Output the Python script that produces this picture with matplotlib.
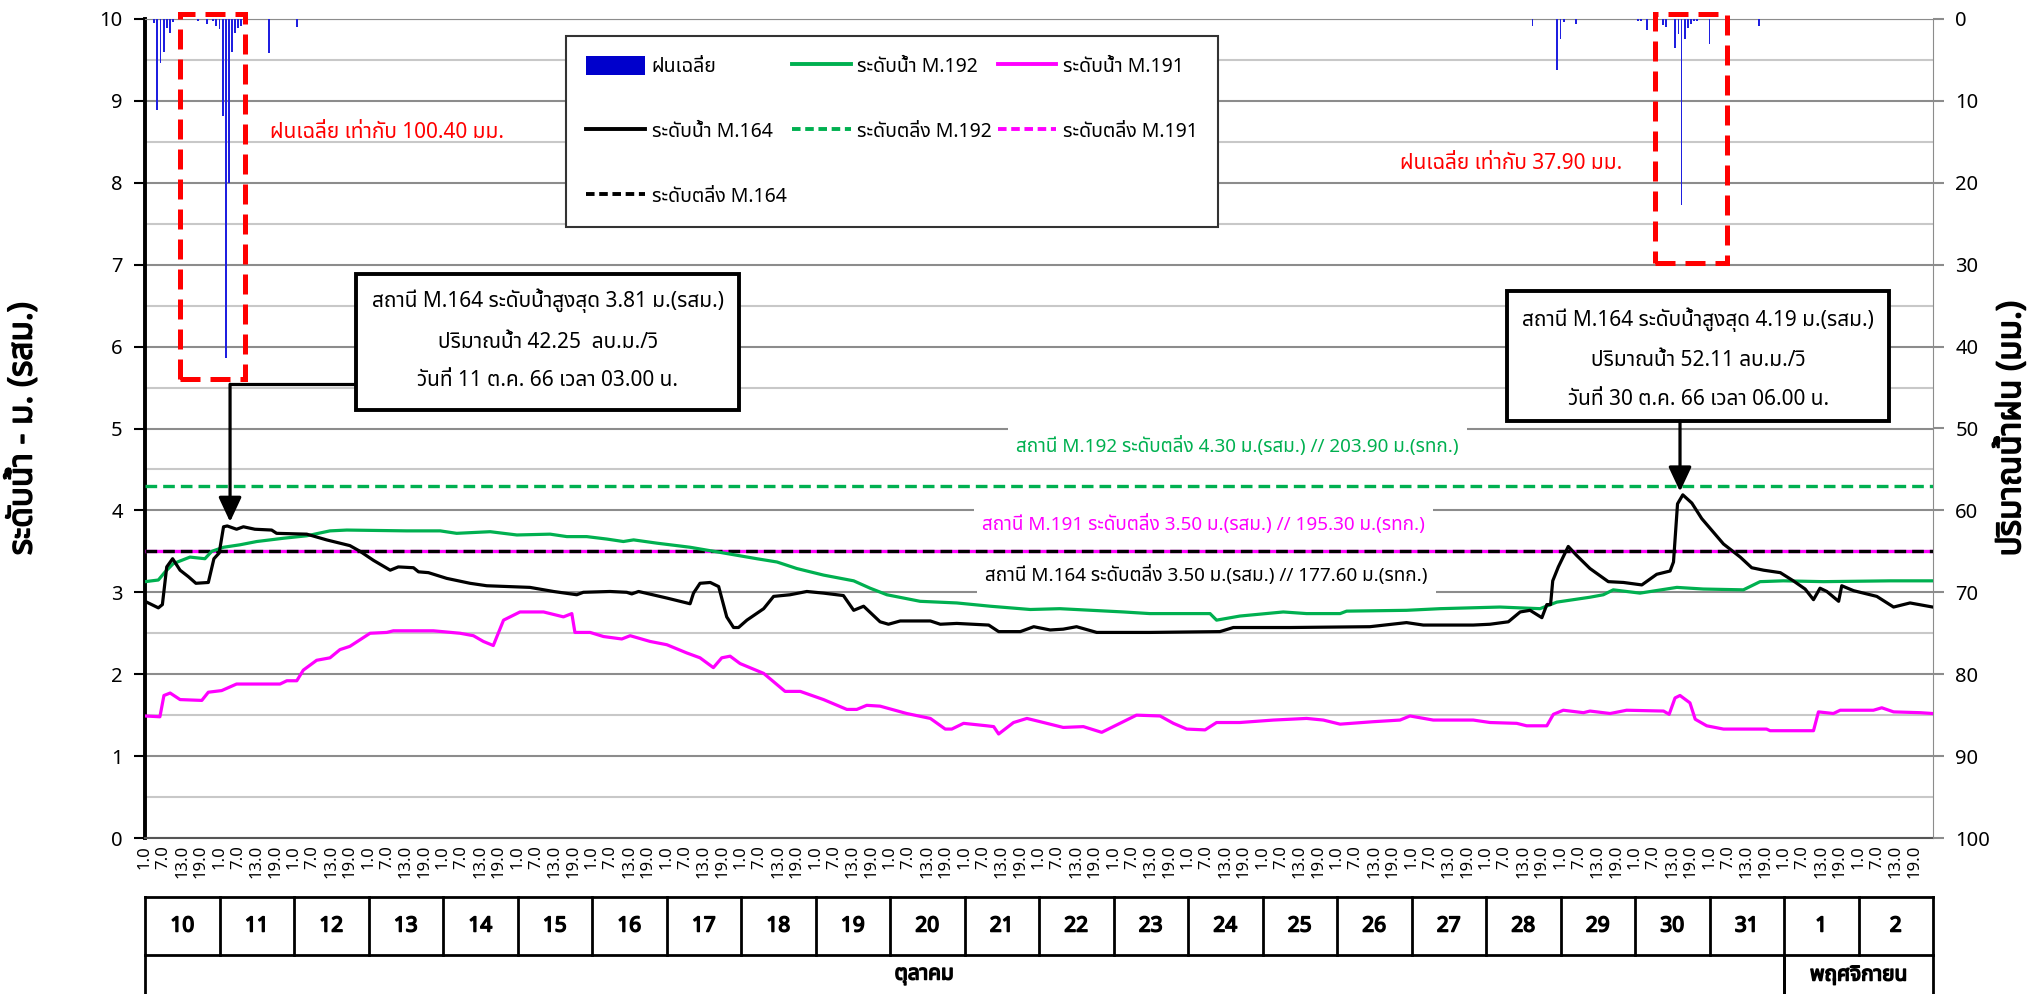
import matplotlib
matplotlib.use('Agg')
import matplotlib.pyplot as plt
from matplotlib import font_manager, transforms, patheffects
from matplotlib.ft2font import FT2Font
from matplotlib.patches import Rectangle
from matplotlib.lines import Line2D

# hourly categories: index 0 = 10 Oct 01:00, one step per hour, 24 days
day_labels = ['10', '11', '12', '13', '14', '15', '16', '17', '18', '19', '20', '21',
              '22', '23', '24', '25', '26', '27', '28', '29', '30', '31', '1', '2']
hour_labels = ['1.0', '7.0', '13.0', '19.0']
month_labels = ['ตุลาคม', 'พฤศจิกายน']
month_spans = [(0, 22), (22, 24)]

# water level M.164 (m. above gauge datum)
m164_hr = [0, 4.3, 5.6, 7, 8.9, 11.3, 14, 16.4, 20.4, 22.2, 23.9, 25.3, 26.5, 29.5, 31.7,
           35.4, 40.8, 42.4, 52.1, 58.5, 66, 69.3, 73.6, 79, 81.6, 86.5, 88.1, 91.3, 97.2,
           104.7, 110.1, 124, 131.6, 139.1, 141.2, 149.8, 155.2, 156.8, 159, 168.1, 175.6,
           176.7, 178.8, 182.1, 184.8, 187.4, 189.6, 191.2, 193.9, 199.3, 202.5, 207.8,
           213.2, 218.6, 225, 228.3, 231.5, 236.8, 239.5, 243.3, 253, 256.2, 261.5, 271.8,
           275, 282, 286.3, 291.6, 295.8, 300.1, 306.6, 323.7, 346.3, 350.6, 368.9, 394.6,
           406.4, 411.8, 427.9, 433.3, 439.2, 443, 446.2, 450, 451.6, 452.8, 453.5, 455.3,
           458.5, 461.2, 465.5, 471.4, 476.3, 482.2, 487, 491.3, 492.4, 493.7, 495.4, 498.3,
           501.5, 508.5, 513.9, 517.6, 521.4, 526.8, 531, 534.8, 537.5, 539.6, 541.8, 545.6,
           546.6, 550.4, 557.9, 563.3, 568.6, 575.9]
m164_lvl = [2.89, 2.81, 2.85, 3.31, 3.41, 3.27, 3.19, 3.11, 3.12, 3.41, 3.48, 3.80, 3.81, 3.77,
            3.80, 3.77, 3.76, 3.72, 3.71, 3.64, 3.57, 3.50, 3.39, 3.27, 3.31, 3.30, 3.25, 3.24,
            3.17, 3.11, 3.08, 3.06, 3.01, 2.97, 3.00, 3.01, 3.00, 2.98, 3.01, 2.93, 2.86, 2.99,
            3.11, 3.12, 3.07, 2.70, 2.57, 2.57, 2.66, 2.80, 2.95, 2.97, 3.01, 2.99, 2.96, 2.78,
            2.83, 2.64, 2.61, 2.65, 2.65, 2.61, 2.62, 2.60, 2.52, 2.52, 2.58, 2.54, 2.55, 2.58,
            2.51, 2.51, 2.52, 2.57, 2.57, 2.58, 2.63, 2.60, 2.60, 2.61, 2.64, 2.76, 2.78, 2.69,
            2.85, 2.85, 3.14, 3.31, 3.56, 3.45, 3.29, 3.13, 3.12, 3.09, 3.22, 3.26, 3.37, 4.08,
            4.19, 4.09, 3.90, 3.59, 3.43, 3.30, 3.27, 3.24, 3.14, 3.04, 2.91, 3.05, 3.01, 2.89,
            3.08, 3.02, 2.95, 2.82, 2.87, 2.82]

# water level M.192
m192_hr = [0, 4.3, 6.5, 9.1, 14.5, 19.3, 21.5, 25.3, 30.6, 36, 44.6, 52.1, 59.6, 65, 84.3,
           95.1, 100.4, 111.2, 119.8, 130.5, 135.9, 142.3, 148.8, 154.1, 157.4, 164.9, 175.6,
           186.4, 197.1, 203.6, 210, 218.6, 228.3, 233.6, 239, 249.7, 261.5, 272.3, 285.2,
           294.7, 315.2, 323.7, 343.1, 345.2, 352.7, 366.7, 374.2, 385, 387.1, 406.4, 417.2,
           436.5, 449.4, 454.8, 465.5, 469.8, 473, 481.6, 493.5, 502, 514.9, 520.3, 527.8,
           540.7, 562.2, 575.9]
m192_lvl = [3.13, 3.15, 3.25, 3.35, 3.43, 3.41, 3.50, 3.55, 3.58, 3.62, 3.66, 3.69, 3.75, 3.76,
            3.75, 3.75, 3.72, 3.74, 3.70, 3.71, 3.68, 3.68, 3.65, 3.62, 3.64, 3.60, 3.55, 3.48,
            3.41, 3.37, 3.29, 3.21, 3.14, 3.05, 2.97, 2.89, 2.87, 2.83, 2.79, 2.80, 2.76, 2.74,
            2.74, 2.66, 2.71, 2.76, 2.74, 2.74, 2.77, 2.78, 2.80, 2.82, 2.80, 2.88, 2.94, 2.97,
            3.03, 2.99, 3.06, 3.04, 3.03, 3.13, 3.14, 3.13, 3.14, 3.14]

# water level M.191
m191_hr = [0, 4.8, 6.1, 8.1, 11.3, 18.3, 20.4, 24.7, 29.5, 43.5, 45.7, 48.9, 51, 55.3, 59.6,
           62.8, 66, 72.5, 77.9, 80, 92.9, 101.5, 105.8, 109, 112.2, 115.5, 120.8, 128.4,
           134.8, 137.5, 138.5, 143.4, 147.7, 153.6, 156.3, 162.7, 168.1, 174.5, 178.8, 183.1,
           185.8, 188.5, 191.7, 199.3, 206.2, 211.1, 218.6, 226.1, 229.3, 232.5, 236.8, 245.4,
           253, 257.8, 259.9, 263.7, 271.2, 273.4, 275, 279.8, 284.1, 288.4, 295.8, 302.3,
           308.2, 313, 319.4, 327, 331.3, 335.6, 341.5, 345.2, 352.7, 363.5, 374.2, 379.6, 385,
           395.7, 404.3, 407.5, 415, 427.9, 433.3, 441.9, 445.1, 451.6, 453.7, 456.9, 463.4,
           465.5, 472, 477.3, 489.2, 491, 492.9, 494.5, 497.7, 499.4, 503.1, 508.5, 522.4,
           523.5, 537.5, 539.1, 543.9, 546.1, 556.8, 559.5, 563.3, 571.9, 575.9]
m191_lvl = [1.49, 1.48, 1.74, 1.77, 1.69, 1.68, 1.78, 1.80, 1.88, 1.88, 1.92, 1.92, 2.05, 2.17,
            2.20, 2.30, 2.34, 2.50, 2.51, 2.53, 2.53, 2.50, 2.47, 2.40, 2.35, 2.66, 2.76, 2.76,
            2.70, 2.74, 2.51, 2.51, 2.46, 2.43, 2.47, 2.40, 2.36, 2.26, 2.20, 2.08, 2.20, 2.22,
            2.13, 2.01, 1.79, 1.79, 1.69, 1.57, 1.57, 1.62, 1.61, 1.52, 1.46, 1.33, 1.33, 1.40,
            1.37, 1.36, 1.27, 1.41, 1.46, 1.42, 1.35, 1.36, 1.29, 1.38, 1.50, 1.49, 1.40, 1.33,
            1.32, 1.41, 1.41, 1.44, 1.46, 1.44, 1.39, 1.42, 1.44, 1.49, 1.44, 1.44, 1.41, 1.40,
            1.37, 1.37, 1.51, 1.56, 1.53, 1.55, 1.52, 1.56, 1.55, 1.51, 1.71, 1.74, 1.65, 1.45,
            1.37, 1.33, 1.33, 1.31, 1.31, 1.54, 1.52, 1.56, 1.56, 1.59, 1.54, 1.53, 1.52]

# bank-full levels
bank_m192 = 4.30
bank_m191 = 3.50
bank_m164 = 3.50

# hourly average rainfall (mm)
rain_hr = [3, 4, 5, 6, 7, 8, 9, 17, 20, 22, 23, 24, 25, 26, 27, 28, 29, 30, 31, 40, 49,
           447, 455, 456, 457, 461, 481, 482, 484, 489, 490, 493, 494, 495, 496, 497, 498,
           499, 500, 504, 520]
rain_mm = [0.5, 11.1, 5.4, 4.0, 1.1, 1.7, 0.4, 0.2, 0.6, 0.2, 0.8, 1.2, 11.8, 41.4, 20.0,
           4.0, 1.7, 1.1, 0.9, 4.1, 1.0,
           0.9, 6.2, 2.5, 0.4, 0.6, 0.2, 0.3, 1.3, 0.7, 1.0, 3.5, 1.8, 22.7, 2.4, 1.1, 0.6,
           0.3, 0.3, 3.0, 0.9]

peak1_hr, peak1_lvl = 27.4, 3.81
peak2_hr, peak2_lvl = 494.5, 4.19
peak1_text = ['สถานี M.164 ระดับน้ำสูงสุด 3.81 ม.(รสม.)', 'ปริมาณน้ำ 42.25  ลบ.ม./วิ',
              'วันที่ 11 ต.ค. 66 เวลา 03.00 น.']
peak2_text = ['สถานี M.164 ระดับน้ำสูงสุด 4.19 ม.(รสม.)', 'ปริมาณน้ำ 52.11 ลบ.ม./วิ',
              'วันที่ 30 ต.ค. 66 เวลา 06.00 น.']
rain_text = ['ฝนเฉลี่ย เท่ากับ 100.40 มม.', 'ฝนเฉลี่ย เท่ากับ 37.90 มม.']
bank_text = ['สถานี M.192 ระดับตลิ่ง 4.30 ม.(รสม.) // 203.90 ม.(รทก.)',
             'สถานี M.191 ระดับตลิ่ง 3.50 ม.(รสม.) // 195.30 ม.(รทก.)',
             'สถานี M.164 ระดับตลิ่ง 3.50 ม.(รสม.) // 177.60 ม.(รทก.)']


def thai_family():
    '''first installed family that has Thai glyphs'''
    preferred = ['Tahoma', 'Noto Sans Thai', 'Noto Sans Thai UI', 'Loma', 'Garuda',
                 'Sarabun', 'Kinnari', 'Norasi', 'Waree', 'Umpush']
    found = []
    for f in font_manager.fontManager.ttflist:
        try:
            cmap = FT2Font(f.fname).get_charmap()
        except Exception:
            continue
        if 0x0E2A in cmap and f.name not in found:
            found.append(f.name)
    for name in preferred:
        if name in found:
            return name
    return found[0] if found else None


thai = thai_family()
plt.rcParams['font.family'] = [thai, 'DejaVu Sans'] if thai else ['DejaVu Sans']

GREEN = '#00B050'
MAGENTA = '#FF00FF'
BLUE = '#0000CC'
# the Thai face has no bold file, so thicken the glyph outlines instead
BOLD = [patheffects.withStroke(linewidth=1.1, foreground='black')]

W, H = 2032, 994
fig = plt.figure(figsize=(W / 100, H / 100), dpi=100)
ax = fig.add_axes([145 / W, 1 - 838 / H, (1933 - 145) / W, (838 - 19) / H])
nhours = 24 * len(day_labels)
ax.set_xlim(0, nhours)
ax.set_ylim(0, 10)

# grid
ax.set_yticks(range(0, 11))
ax.set_yticks([i + 0.5 for i in range(10)], minor=True)
ax.grid(axis='y', which='major', color='#8C8C8C', lw=1.5)
ax.grid(axis='y', which='minor', color='#C8C8C8', lw=1.5)
ax.set_axisbelow(True)
ax.tick_params(axis='y', which='major', labelsize=14.5, length=8, width=1.5, pad=8)
ax.tick_params(axis='y', which='minor', length=0)
ax.spines['left'].set_linewidth(2.8)
ax.spines['left'].set_color('black')
ax.spines['bottom'].set_color('#555555')
ax.spines['bottom'].set_linewidth(1.5)
ax.spines['top'].set_color('#8C8C8C')
ax.spines['right'].set_color('#8C8C8C')

ticks = list(range(0, nhours, 6))
ax.set_xticks(ticks)
ax.set_xticklabels([hour_labels[(t // 6) % 4] for t in ticks], rotation=90, fontsize=12)
ax.tick_params(axis='x', length=0, pad=5)

ax.set_ylabel('ระดับน้ำ - ม. (รสม.)', fontsize=24, path_effects=BOLD)
ax.yaxis.set_label_coords(-0.059, 0.5)

# bank-full lines, M.164 drawn over M.191
ax.axhline(bank_m192, color=GREEN, lw=2.4, dashes=(3.5, 1.8), zorder=3)
ax.axhline(bank_m191, color=MAGENTA, lw=2.4, zorder=3)
ax.axhline(bank_m164, color='black', lw=2.4, dashes=(3.5, 1.8), zorder=3.1)

ax.plot(m191_hr, m191_lvl, color=MAGENTA, lw=2.3, zorder=4)
ax.plot(m192_hr, m192_lvl, color=GREEN, lw=2.3, zorder=4)
ax.plot(m164_hr, m164_lvl, color='black', lw=2.3, zorder=5)

bank_y = [4.79, 3.84, 3.21]
bank_x = [352, 341, 342]
for txt, bx, by, col in zip(bank_text, bank_x, bank_y, [GREEN, MAGENTA, 'black']):
    ax.text(bx, by, txt, color=col, fontsize=13.6, ha='center', va='center', zorder=2,
            bbox=dict(boxstyle='square,pad=0.45', fc='white', ec='none'))

# peak boxes with arrows
for txt, (x0, x1, y0, y1), ly in [
        (peak1_text, (68.0, 191.4, 5.23, 6.89), [6.56, 6.05, 5.59]),
        (peak2_text, (438.8, 561.9, 5.09, 6.68), [6.33, 5.83, 5.35])]:
    ax.add_patch(Rectangle((x0, y0), x1 - x0, y1 - y0, fc='white', ec='black', lw=2.8,
                           zorder=6))
    for line, yy in zip(txt, ly):
        ax.text((x0 + x1) / 2, yy, line, ha='center', va='center', fontsize=15, zorder=7)

ax.plot([68.0, peak1_hr], [5.54, 5.54], color='black', lw=2.3, zorder=6,
        solid_capstyle='butt')
for hx, hy, y_from in [(peak1_hr, peak1_lvl + 0.05, 5.54), (peak2_hr, peak2_lvl + 0.04, 5.09)]:
    ax.annotate('', xy=(hx, hy), xytext=(hx, y_from),
                arrowprops=dict(arrowstyle='-|>,head_length=0.75,head_width=0.35', lw=2.3,
                                color='black', shrinkA=0, shrinkB=0, mutation_scale=20),
                zorder=6)

# rainfall on inverted right axis
ax2 = ax.twinx()
ax2.set_ylim(100, 0)
ax2.set_yticks(range(0, 101, 10))
ax2.tick_params(axis='y', labelsize=14.5, length=8, width=1.5, pad=8, color='#8C8C8C')
ax2.bar(rain_hr, rain_mm, width=0.6, color='#1F1FE0', align='center', zorder=2)
for s in ax2.spines.values():
    s.set_visible(False)
ax2.set_ylabel('ปริมาณน้ำฝน (มม.)', fontsize=24, path_effects=BOLD)
ax2.yaxis.set_label_coords(1.0345, 0.5)
ax2.set_xlim(0, nhours)

ax2.text(40.3, 8.61, rain_text[0], transform=ax.transData, color='red', fontsize=15,
         ha='left', va='center')
ax2.text(440, 8.24, rain_text[1], transform=ax.transData, color='red', fontsize=15,
         ha='center', va='center')
for x0, x1, y0 in [(11.3, 32.3, 5.60), (486.3, 509.6, 7.02)]:
    ax2.add_patch(Rectangle((x0, y0), x1 - x0, 10.06 - y0, transform=ax.transData,
                            fill=False, ec='red', lw=3.6, ls=(0, (4, 2)), clip_on=False,
                            zorder=8))

# legend
handles = [Rectangle((0, 0), 1, 1, fc=BLUE, ec='none'),
           Line2D([], [], color='black', lw=2.8),
           Line2D([], [], color='black', lw=2.8, dashes=(2.2, 1.2)),
           Line2D([], [], color=GREEN, lw=2.8),
           Line2D([], [], color=GREEN, lw=2.8, dashes=(2.2, 1.2)),
           Line2D([], [], color=MAGENTA, lw=2.8),
           Line2D([], [], color=MAGENTA, lw=2.8, dashes=(2.2, 1.2))]
labels = ['ฝนเฉลี่ย', 'ระดับน้ำ M.164', 'ระดับตลิ่ง M.164', 'ระดับน้ำ M.192',
          'ระดับตลิ่ง M.192', 'ระดับน้ำ M.191', 'ระดับตลิ่ง M.191']
leg = fig.legend(handles, labels, loc='upper left', bbox_to_anchor=(566 / W, 1 - 36 / H),
                 ncol=3, fontsize=14, handlelength=3.0, handleheight=1.1,
                 handletextpad=0.35, labelspacing=2.25, columnspacing=0.3, borderpad=1.05,
                 borderaxespad=0, fancybox=False, framealpha=1, edgecolor='#333333')
leg.get_frame().set_linewidth(1.5)

# day / month table under the axis
tr = transforms.blended_transform_factory(ax.transData, fig.transFigure)
y_top, y_mid, y_bot = 1 - 897 / H, 1 - 955 / H, 0
kw = dict(transform=tr, color='black', lw=2, clip_on=False)
fig.add_artist(Line2D([0, nhours], [y_top, y_top], **kw))
fig.add_artist(Line2D([0, nhours], [y_mid, y_mid], **kw))
for i, d in enumerate(day_labels + ['']):
    fig.add_artist(Line2D([24 * i, 24 * i], [y_top, y_mid], **kw))
    if d:
        fig.text(24 * i + 12, 1 - 926 / H, d, transform=tr, ha='center', va='center',
                 fontsize=15, path_effects=BOLD)
month_x = [251, 552]
for (a, b), m, mx in zip(month_spans, month_labels, month_x):
    fig.add_artist(Line2D([24 * a, 24 * a], [y_mid, y_bot], **kw))
    fig.add_artist(Line2D([24 * b, 24 * b], [y_mid, y_bot], **kw))
    fig.text(mx, 1 - 975 / H, m, transform=tr, ha='center', va='center', fontsize=15,
             path_effects=BOLD)

fig.savefig('out.png', dpi=100)
